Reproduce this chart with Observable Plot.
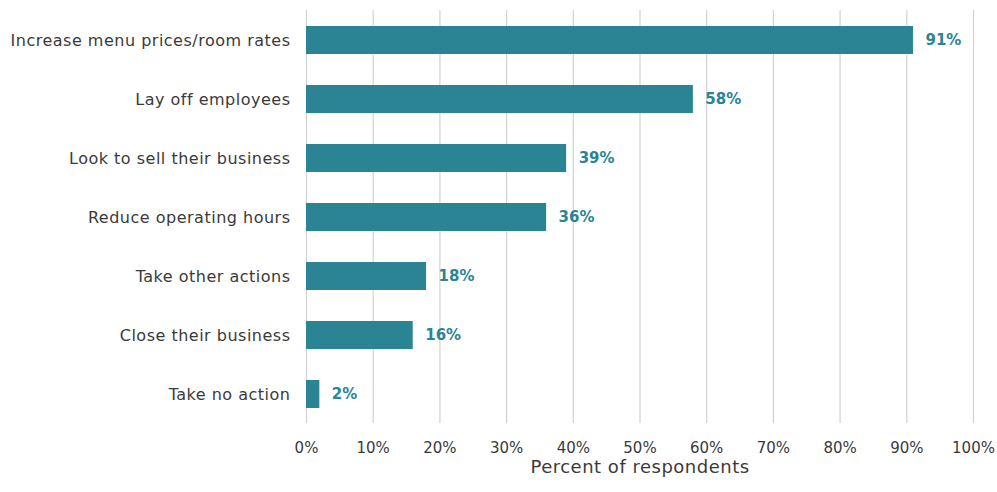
<!DOCTYPE html>
<html>
<head>
<meta charset="utf-8">
<script src="https://cdn.jsdelivr.net/npm/d3@7"></script>
<script src="https://cdn.jsdelivr.net/npm/@observablehq/plot@0.6"></script>
<style>
  body { margin: 0; background: #fff; }
  #chart [aria-label="y-axis tick label"] text { font-size: 16px; letter-spacing: 0.5px; }
  #chart [aria-label="x-axis label"] text { font-size: 18px; letter-spacing: 0.5px; }
</style>
</head>
<body>
<div id="chart"></div>
<script>
const actions = [
  "Increase menu prices/room rates",
  "Lay off employees",
  "Look to sell their business",
  "Reduce operating hours",
  "Take other actions",
  "Close their business",
  "Take no action"
];
const percents = [91, 58, 39, 36, 18, 16, 2];
const xTicks = [0, 10, 20, 30, 40, 50, 60, 70, 80, 90, 100];

const data = actions.map((a, i) => ({action: a, value: percents[i]}));

const teal = "#2a8493";

const chart = Plot.plot({
  width: 997,
  height: 482,
  marginLeft: 306,
  marginRight: 24,
  marginTop: 8,
  marginBottom: 56,
  style: {fontFamily: "'DejaVu Sans', sans-serif", fontSize: "15px", color: "#3a3a3a"},
  x: {
    domain: [0, 100],
    ticks: xTicks,
    tickFormat: d => d + "%",
    grid: false,
    label: "Percent of respondents",
    labelAnchor: "center",
    labelArrow: "none",
    labelOffset: 46,
    tickSize: 0,
    tickPadding: 16
  },
  y: {
    domain: actions,
    paddingInner: 0.52,
    paddingOuter: 0.26,
    label: null,
    tickSize: 0,
    tickPadding: 16
  },
  marks: [
    Plot.ruleX(xTicks, {stroke: "#d2d2d2", strokeWidth: 1.2, insetTop: 2, insetBottom: 3}),
    Plot.barX(data, {x: "value", y: "action", fill: teal}),
    Plot.text(data, {
      x: "value", y: "action", text: d => d.value + "%",
      textAnchor: "start", dx: 12, fill: teal, fontWeight: "bold", fontSize: 15
    })
  ]
});

document.getElementById("chart").appendChild(chart);
</script>
</body>
</html>
